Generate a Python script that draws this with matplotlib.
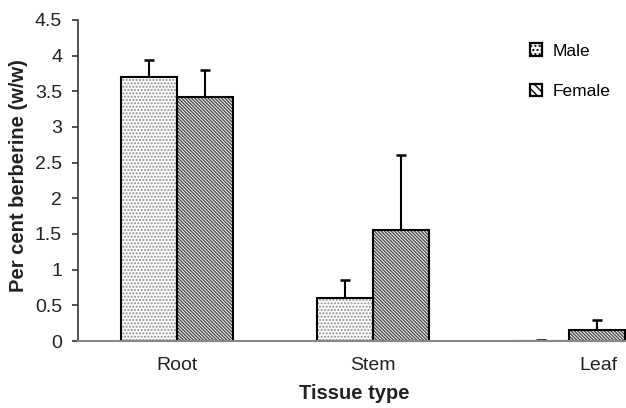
import numpy as np
import matplotlib
matplotlib.use("Agg")
import matplotlib.pyplot as plt
from matplotlib.patches import Patch
from matplotlib.transforms import ScaledTranslation

tissues = ["Root", "Stem", "Leaf"]
male = [3.70, 0.60, 0.005]
male_err = [0.24, 0.255, 0.015]
female = [3.42, 1.55, 0.15]
female_err = [0.38, 1.05, 0.14]

plt.rcParams["font.family"] = ["Liberation Sans", "DejaVu Sans"]
plt.rcParams["hatch.linewidth"] = 1.0

fig = plt.figure(figsize=(6.26, 4.08), dpi=100)
ax = fig.add_axes([0.1246, 0.1642, 0.8754, 0.787])

x = np.arange(len(tissues))
w = 0.286

# hatched fills first, then black outlines on top
ax.bar(x - w / 2, male, w, align="center", color="white",
       edgecolor="#8c8c8c", hatch="." * 5, lw=0)
ax.bar(x + w / 2, female, w, align="center", color="white",
       edgecolor="#4a4a4a", hatch="\\" * 10, lw=0)
ax.bar(x - w / 2, male, w, fill=False, edgecolor="black", lw=1.5)
ax.bar(x + w / 2, female, w, fill=False, edgecolor="black", lw=1.5)

for xs, vals, errs in [(x - w / 2, male, male_err), (x + w / 2, female, female_err)]:
    eb = ax.errorbar(xs, vals, yerr=[np.zeros(len(errs)), errs], fmt="none",
                     ecolor="black", elinewidth=1.5, capsize=3.3, capthick=1.8)
    # only the upper cap is wanted
    eb[1][0].set_visible(False)

ax.set_xlim(-0.505, 2.29)
ax.set_ylim(0, 4.5)
ax.set_yticks(np.arange(0, 4.51, 0.5))
ax.set_yticklabels(["0", "0.5", "1", "1.5", "2", "2.5", "3", "3.5", "4", "4.5"])
ax.set_xticks(x)
ax.set_xticklabels(tissues)

for s in ["top", "right"]:
    ax.spines[s].set_visible(False)
ax.spines["left"].set_color("#333333")
ax.spines["left"].set_linewidth(1.2)
ax.spines["bottom"].set_color("#888888")
ax.spines["bottom"].set_linewidth(1.5)

ax.tick_params(axis="y", direction="out", length=4.5, width=1.2,
               color="#333333", labelsize=14, pad=7, labelcolor="#222222")
ax.tick_params(axis="x", length=0, labelsize=14, pad=11.5, labelcolor="#222222")

# Leaf label is pushed inward so it fits the frame
lab = ax.get_xticklabels()[2]
lab.set_transform(lab.get_transform() + ScaledTranslation(29 / 100, 0, fig.dpi_scale_trans))

ax.set_ylabel("Per cent berberine (w/w)", fontsize=14.5, fontweight="bold", color="#222222")
ax.yaxis.set_label_coords(-0.091, 0.514)
ax.set_xlabel("Tissue type", fontsize=14.5, fontweight="bold", color="#222222")
ax.xaxis.set_label_coords(0.504, -0.134)

handles = [Patch(facecolor="white", edgecolor="black", hatch="....", lw=1.6, label="Male"),
           Patch(facecolor="white", edgecolor="black", hatch="\\\\\\\\", lw=1.6, label="Female")]
fig.legend(handles=handles, loc="upper left", bbox_to_anchor=(0.832, 0.915),
           frameon=False, fontsize=12.5, borderpad=0, handlelength=0.7,
           handleheight=0.7, handletextpad=0.65, labelspacing=1.45)

fig.savefig("out.png", dpi=100)
